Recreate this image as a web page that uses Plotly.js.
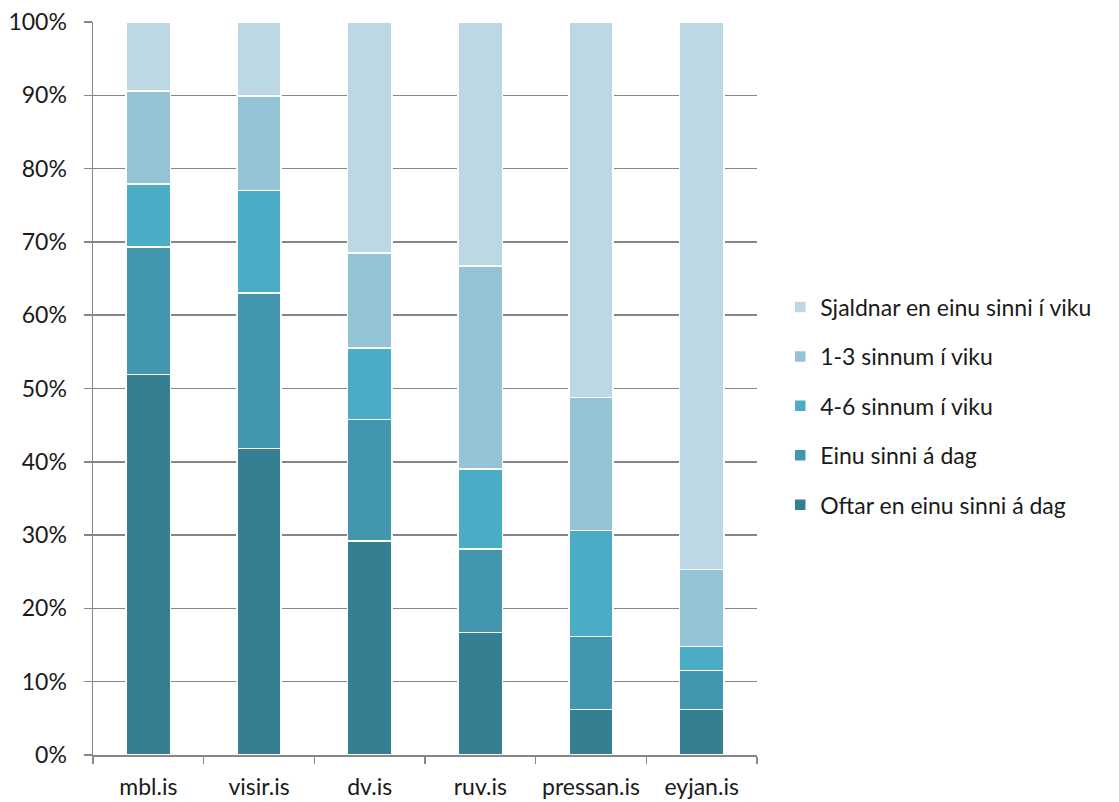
<!DOCTYPE html>
<html>
<head>
<meta charset="utf-8">
<script src="https://cdn.plot.ly/plotly-3.0.1.min.js"></script>
<style>html,body{margin:0;padding:0;background:#fff;}#chart{width:1119px;height:802px;}</style>
</head>
<body>
<div id="chart"></div>
<script>
var categories = ["mbl.is", "visir.is", "dv.is", "ruv.is", "pressan.is", "eyjan.is"];
var seriesNames = ["Oftar en einu sinni á dag", "Einu sinni á dag", "4-6 sinnum í viku", "1-3 sinnum í viku", "Sjaldnar en einu sinni í viku"];
var oftar     = [51.9, 41.8, 29.2, 16.7, 6.2, 6.2];
var einu      = [17.4, 21.2, 16.6, 11.4, 10.0, 5.3];
var fjogur    = [8.6, 14.0, 9.7, 10.9, 14.4, 3.3];
var eitt      = [12.7, 12.9, 13.0, 27.7, 18.2, 10.5];
var sjaldnar  = [9.4, 10.1, 31.5, 33.3, 51.2, 74.7];
var colors = ["#357F93", "#4297AE", "#4BACC6", "#93C3D5", "#BCD8E4"];
var yTicks = [0, 10, 20, 30, 40, 50, 60, 70, 80, 90, 100];

var seriesValues = [oftar, einu, fjogur, eitt, sjaldnar];
var traces = seriesValues.map(function (vals, i) {
  return {
    type: "bar",
    name: seriesNames[i],
    x: categories,
    y: vals,
    legendgroup: "g" + i,
    legendrank: 5 - i,
    marker: { color: colors[i], line: { color: "#ffffff", width: 1.5 } },
    hoverinfo: "x+y+name"
  };
});

var fontFam = "Lato, 'Open Sans', sans-serif";
var layout = {
  width: 1119,
  height: 802,
  margin: { l: 93, r: 362, t: 22, b: 47, pad: 0 },
  paper_bgcolor: "#ffffff",
  plot_bgcolor: "#ffffff",
  barmode: "stack",
  bargap: 0.6,
  showlegend: true,
  font: { family: fontFam, size: 23, color: "#1a1a1a" },
  xaxis: {
    type: "category",
    showgrid: false,
    showline: true,
    linecolor: "#868686",
    linewidth: 1.5,
    ticks: "outside",
    tickson: "boundaries",
    ticklen: 7,
    tickcolor: "#868686",
    tickwidth: 1.5,
    tickangle: 0,
    ticklabelstandoff: 11,
    tickfont: { family: fontFam, size: 23, color: "#1a1a1a" },
    zeroline: false,
    automargin: false
  },
  yaxis: {
    range: [0, 100],
    tickvals: yTicks,
    ticktext: yTicks.map(function (v) { return v + "%"; }),
    showgrid: true,
    gridcolor: "#868686",
    gridwidth: 1.5,
    showline: true,
    linecolor: "#868686",
    linewidth: 1.5,
    ticks: "outside",
    ticklen: 8,
    tickcolor: "#868686",
    tickwidth: 1.5,
    ticklabelstandoff: 12,
    tickfont: { family: fontFam, size: 23, color: "#1a1a1a" },
    zeroline: false,
    automargin: false
  },
  legend: {
    x: 1.035,
    xanchor: "left",
    y: 0.476,
    yanchor: "middle",
    traceorder: "grouped",
    tracegroupgap: 16.5,
    font: { family: fontFam, size: 23, color: "#1a1a1a" },
    bgcolor: "rgba(0,0,0,0)"
  }
};

Plotly.newPlot("chart", traces, layout, { displayModeBar: false, staticPlot: true });
</script>
</body>
</html>
